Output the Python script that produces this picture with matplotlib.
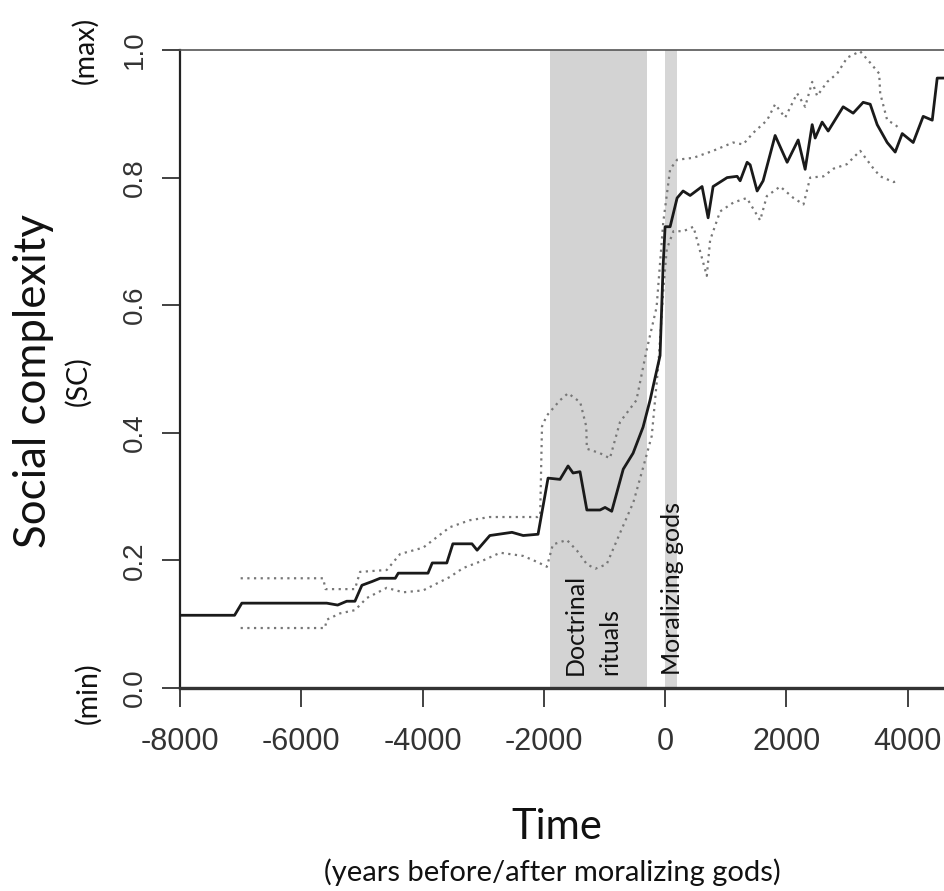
import matplotlib
matplotlib.use("Agg")
import matplotlib.pyplot as plt
from matplotlib import font_manager as fm

# ---- data ----
mean_years = [-8000, -7100, -6980, -5580, -5400, -5250, -5115, -5000, -4830, -4700, -4450, -4400,
              -3910, -3840, -3600, -3500, -3185, -3100, -2890, -2525, -2340, -2095, -1930, -1733,
              -1600, -1518, -1403, -1290, -1073, -990, -880, -690, -528, -363, -248, -83, -33, 0,
              83, 198, 297, 413, 610, 710, 792, 1023, 1188, 1238, 1353, 1403, 1518, 1617, 1815,
              2013, 2195, 2310, 2426, 2475, 2590, 2690, 2937, 3102, 3267, 3383, 3498, 3663, 3795,
              3911, 4092, 4257, 4406, 4488, 4600]
mean_sc = [0.114, 0.114, 0.133, 0.133, 0.130, 0.136, 0.136, 0.161, 0.167, 0.172, 0.172, 0.180,
           0.180, 0.196, 0.196, 0.226, 0.226, 0.216, 0.239, 0.244, 0.239, 0.241, 0.329, 0.327,
           0.348, 0.337, 0.339, 0.279, 0.279, 0.283, 0.277, 0.343, 0.368, 0.409, 0.451, 0.521,
           0.660, 0.723, 0.723, 0.768, 0.779, 0.772, 0.786, 0.737, 0.786, 0.800, 0.802, 0.795,
           0.824, 0.820, 0.779, 0.795, 0.866, 0.824, 0.859, 0.813, 0.883, 0.862, 0.887, 0.873,
           0.911, 0.901, 0.918, 0.915, 0.883, 0.855, 0.840, 0.869, 0.855, 0.896, 0.890, 0.956,
           0.956]

upper_years = [-7000, -5640, -5600, -5115, -5030, -4590, -4370, -3990, -3550, -3220, -2890, -2100,
               -2060, -2030, -1950, -1733, -1600, -1400, -1300, -1290, -1073, -910, -743, -473,
               -308, -140, -30, 83, 198, 467, 792, 1122, 1287, 1452, 1683, 1815, 1980, 2178, 2310,
               2426, 2508, 2673, 2838, 3003, 3217, 3383, 3531, 3548, 3663, 3795, 3880]
upper_sc = [0.172, 0.172, 0.155, 0.155, 0.182, 0.185, 0.210, 0.220, 0.252, 0.263, 0.268, 0.268,
            0.270, 0.410, 0.427, 0.451, 0.462, 0.448, 0.410, 0.375, 0.368, 0.360, 0.417, 0.451,
            0.528, 0.597, 0.730, 0.813, 0.828, 0.831, 0.842, 0.855, 0.852, 0.870, 0.890, 0.915,
            0.894, 0.932, 0.911, 0.950, 0.928, 0.950, 0.963, 0.988, 0.998, 0.980, 0.963, 0.932,
            0.890, 0.883, 0.875]

lower_years = [-7000, -5610, -5580, -5360, -5115, -4920, -4590, -4320, -3990, -3760, -3550, -3330,
               -3000, -2720, -2340, -2095, -1950, -1850, -1620, -1450, -1290, -1150, -963, -743,
               -523, -358, -220, -110, -28, 28, 138, 303, 468, 688, 743, 908, 1128, 1348, 1568,
               1678, 1898, 2118, 2283, 2393, 2613, 2778, 2998, 3218, 3438, 3548, 3768, 3850]
lower_sc = [0.094, 0.094, 0.107, 0.117, 0.122, 0.141, 0.157, 0.150, 0.153, 0.164, 0.174, 0.188,
            0.200, 0.212, 0.207, 0.197, 0.190, 0.225, 0.232, 0.215, 0.194, 0.187, 0.194, 0.243,
            0.291, 0.347, 0.395, 0.508, 0.625, 0.688, 0.716, 0.716, 0.723, 0.646, 0.702, 0.747,
            0.761, 0.768, 0.733, 0.771, 0.786, 0.768, 0.758, 0.800, 0.802, 0.814, 0.821, 0.842,
            0.814, 0.802, 0.793, 0.795]

doctrinal_span = (-1900, -300)
moralizing_span = (0, 190)
x_ticks = [-8000, -6000, -4000, -2000, 0, 2000, 4000]
y_ticks = [0.0, 0.2, 0.4, 0.6, 0.8, 1.0]

# ---- fonts ----
names = {f.name for f in fm.fontManager.ttflist}
tick_font = "Liberation Sans Narrow" if "Liberation Sans Narrow" in names else "Liberation Sans"
label_font = "Lato"

W, H = 944, 891
fig = plt.figure(figsize=(W / 100, H / 100), dpi=100)
ax = fig.add_axes([180 / W, 1 - 688 / H, 1 - 180 / W, (688 - 50) / H])
ax.set_xlim(-8000, 4600)
ax.set_ylim(0, 1)

ax.axvspan(*doctrinal_span, color="#d3d3d3", lw=0, zorder=0)
ax.axvspan(*moralizing_span, color="#d6d6d6", lw=0, zorder=0)

ax.plot(upper_years, upper_sc, ls=(0, (1, 2)), color="#777777", lw=1.6, zorder=2)
ax.plot(lower_years, lower_sc, ls=(0, (1, 2)), color="#777777", lw=1.6, zorder=2)
ax.plot(mean_years, mean_sc, color="#1a1a1a", lw=2.0, zorder=3)

ann = dict(rotation=90, ha="center", va="bottom", family=label_font, fontsize=18, color="#111111")
ax.text(-1485, 0.02, "Doctrinal", **ann)
ax.text(-908, 0.02, "rituals", **ann)
ax.text(130, 0.02, "Moralizing gods", **ann)

ax.spines["right"].set_visible(False)
ax.spines["top"].set_color("#555555")
ax.spines["top"].set_linewidth(1.2)
ax.spines["left"].set_linewidth(1.6)
ax.spines["bottom"].set_linewidth(2.4)
ax.spines["left"].set_color("#222222")
ax.spines["bottom"].set_color("#333333")

ax.set_xticks(x_ticks)
ax.set_xticklabels([str(v) for v in x_ticks])
ax.set_yticks(y_ticks)
ax.set_yticklabels([f"{v:.1f}" for v in y_ticks])
ax.tick_params(axis="x", length=14, width=1.3, color="#333333", pad=14,
               labelsize=22, labelcolor="#333333")
ax.tick_params(axis="y", length=13, width=1.3, color="#333333", pad=10,
               labelsize=20, labelcolor="#333333", labelrotation=90)
for lab in ax.get_xticklabels() + ax.get_yticklabels():
    lab.set_family(tick_font)
for lab in ax.get_yticklabels():
    lab.set_va("center")

# axis titles
fig.text(34 / W, 1 - 381 / H, "Social complexity", rotation=90, ha="center", va="center",
         family=label_font, fontsize=31.5, color="#111111")
fig.text(78 / W, 1 - 381 / H, "(SC)", rotation=90, ha="center", va="center",
         family=label_font, fontsize=20.5, color="#111111")
fig.text(85 / W, 1 - 50 / H, "(max)", rotation=90, ha="center", va="center",
         family=label_font, fontsize=20.5, color="#111111")
fig.text(88 / W, 1 - 693 / H, "(min)", rotation=90, ha="center", va="center",
         family=label_font, fontsize=20.5, color="#111111")
fig.text(557 / W, 1 - 827 / H, "Time", ha="center", va="center",
         family=label_font, fontsize=30, color="#111111")
fig.text(552 / W, 1 - 872 / H, "(years before/after moralizing gods)", ha="center", va="center",
         family=label_font, fontsize=21, color="#111111")

fig.savefig("out.png", dpi=100)
